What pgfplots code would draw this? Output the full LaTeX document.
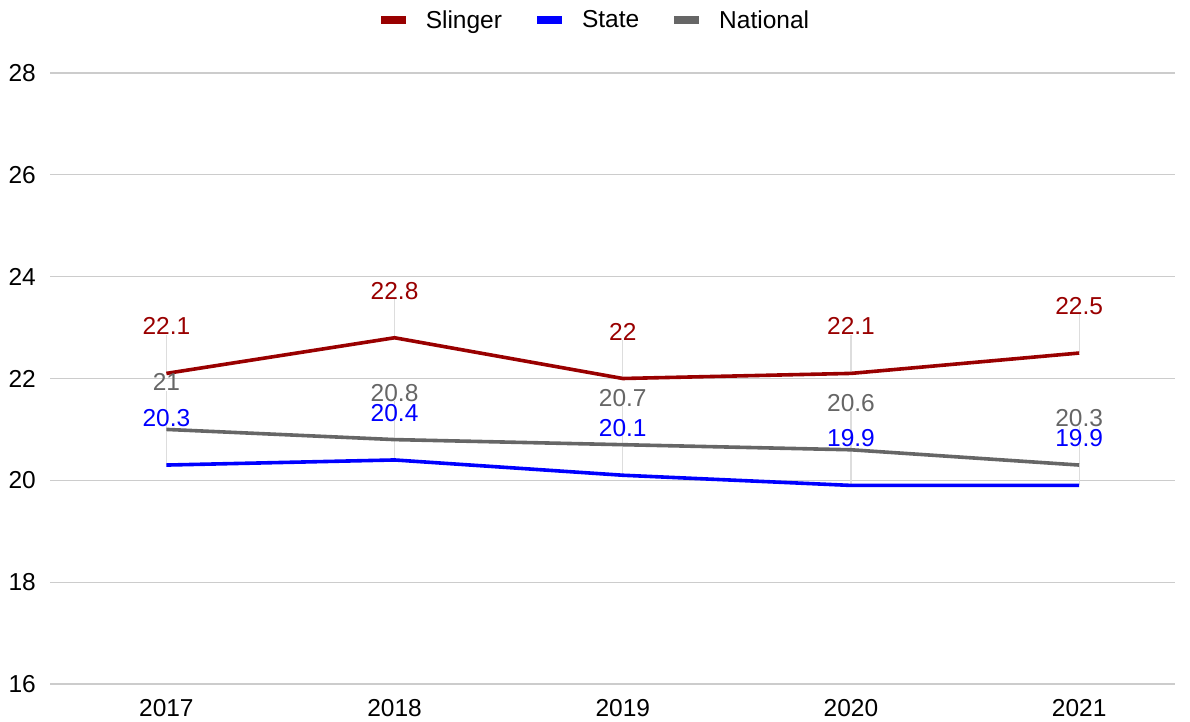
\documentclass[border=0pt]{standalone}
\usepackage{pgfplots}
\pgfplotsset{compat=1.18}
\usepackage{fontspec}
\setmainfont{Liberation Sans}
\definecolor{cSl}{HTML}{990000}
\definecolor{cSt}{HTML}{0000FF}
\definecolor{cNa}{HTML}{666666}
\definecolor{cGrid}{HTML}{CCCCCC}
\definecolor{cLead}{HTML}{DDDDDD}
\begin{document}
\begin{tikzpicture}
\begin{axis}[
  name=ax,
  scale only axis, width=1125bp, height=611bp,
  xmin=-0.51, xmax=4.42, ymin=16, ymax=28,
  xtick={0,1,2,3,4}, xticklabels={2017,2018,2019,2020,2021},
  ytick={16,18,...,28},
  axis line style={draw=none}, tick style={draw=none},
  ymajorgrids, grid style={cGrid, line width=1.2bp},
  tick label style={font=\fontsize{24.5bp}{27bp}\selectfont, text=black},
  /pgf/number format/assume math mode=true,
  yticklabel style={anchor=west},
  every y tick label/.append style={xshift=-45bp},
  xticklabel style={yshift=-12bp},
  legend columns=3,
  legend style={at={(0.4844,1)}, anchor=center, yshift=53bp, draw=none, fill=none,
    font=\fontsize{24.5bp}{27bp}\selectfont,
    nodes={inner sep=0pt},
    /tikz/every even column/.append style={column sep=35bp}},
  legend image code/.code={\fill[#1, draw=none] (0bp,-4bp) rectangle (25bp,4bp); \path[draw=none] (0bp,0bp) -- (45bp,0bp);},
  nodes near coords, point meta=explicit symbolic,
  every node near coord/.append style={anchor=center, yshift=47bp, font=\fontsize{24.5bp}{27bp}\selectfont},
  clip=false,
]
% leader lines
\addplot[forget plot, draw=none, nodes near coords={}, error bars/.cd, y dir=plus, y fixed=0.76, error mark=none, error bar style={cLead, line width=1.2bp}]
 coordinates {(0,22.1) (1,22.8) (2,22.0) (3,22.1) (4,22.5)};
\addplot[forget plot, draw=none, nodes near coords={}, error bars/.cd, y dir=plus, y fixed=0.76, error mark=none, error bar style={cLead, line width=1.2bp}]
 coordinates {(0,20.3) (1,20.4) (2,20.1) (3,19.9) (4,19.9)};
\addplot[forget plot, draw=none, nodes near coords={}, error bars/.cd, y dir=plus, y fixed=0.76, error mark=none, error bar style={cLead, line width=1.2bp}]
 coordinates {(0,21.0) (1,20.8) (2,20.7) (3,20.6) (4,20.3)};
% series
\addplot[cSl, line width=3.6bp, mark=none, every node near coord/.append style={text=cSl}]
 coordinates {(0,22.1)[22.1] (1,22.8)[22.8] (2,22.0)[22] (3,22.1)[22.1] (4,22.5)[22.5]};
\addlegendentry{Slinger}
\addplot[cSt, line width=3.6bp, mark=none, every node near coord/.append style={text=cSt}]
 coordinates {(0,20.3)[20.3] (1,20.4)[20.4] (2,20.1)[20.1] (3,19.9)[19.9] (4,19.9)[19.9]};
\addlegendentry{State}
\addplot[cNa, line width=3.6bp, mark=none, every node near coord/.append style={text=cNa}]
 coordinates {(0,21.0)[21] (1,20.8)[20.8] (2,20.7)[20.7] (3,20.6)[20.6] (4,20.3)[20.3]};
\addlegendentry{National}
\end{axis}
\pgfresetboundingbox
\path ([xshift=-50bp,yshift=-38bp]ax.south west) rectangle ([xshift=15bp,yshift=73bp]ax.north east);
\end{tikzpicture}
\end{document}
